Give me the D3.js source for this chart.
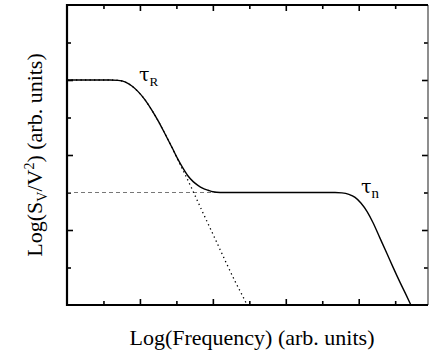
<!DOCTYPE html>
<html>
<head>
<meta charset="utf-8">
<script src="https://cdn.jsdelivr.net/npm/d3@7"></script>
<style>
  body { margin: 0; background: #fff; }
  text { font-family: "Liberation Serif", "Times New Roman", serif; fill: #000; }
</style>
</head>
<body>
<svg id="chart"></svg>
<script>
// values (x: log frequency, y: log noise, arbitrary units)
const freq  = [0, 1.18, 1.40, 1.59, 1.78, 1.95, 2.14, 2.33, 2.50, 2.69, 2.88, 3.04, 3.18, 3.32, 3.46, 3.59, 3.73, 3.87, 4.00, 4.20, 4.47, 7.35, 7.54, 7.73, 7.90, 8.06, 8.23, 8.39, 8.58, 8.78, 8.94, 9.13, 9.30, 9.43]
const total = [6, 6.00, 5.99, 5.95, 5.84, 5.69, 5.47, 5.19, 4.91, 4.56, 4.20, 3.89, 3.65, 3.44, 3.29, 3.19, 3.11, 3.06, 3.02, 3.00, 3.00, 3.00, 2.99, 2.95, 2.87, 2.72, 2.49, 2.20, 1.79, 1.36, 1.01, 0.61, 0.27, 0]

// single Lorentzian (tau_R), dotted
const freqR  = [0, 1.18, 1.40, 1.59, 1.78, 1.95, 2.14, 2.33, 2.50, 2.69, 2.88, 3.04, 3.24, 3.51, 3.78, 4.06, 4.33, 4.61, 4.80, 4.94]
const lorR   = [6, 6.00, 5.99, 5.95, 5.84, 5.69, 5.47, 5.19, 4.91, 4.56, 4.20, 3.87, 3.48, 2.92, 2.35, 1.77, 1.20, 0.63, 0.27, 0]

// tau_n plateau, dashed
const freqN = [0, 4.3]
const levelN = [3, 3]

const xMajor = [2, 4, 6, 8]
const xMinor = [1, 3, 5, 7, 9]
const yMajor = [2, 4, 6]
const yMinor = [1, 3, 5, 7]

const width = 430
const height = 356
const margin = { left: 67, right: 2, top: 5, bottom: 51 }

const svg = d3.select("#chart")
    .attr("width", width)
    .attr("height", height)

const x = d3.scaleLinear().domain([0, 9.9]).range([margin.left, width - margin.right])
const y = d3.scaleLinear().domain([0, 8]).range([height - margin.bottom, margin.top])

const x0 = x.range()[0], x1 = x.range()[1]
const y0 = y.range()[0], y1 = y.range()[1]

// ticks, pointing inward on every side
const addAxis = (axis, tx, ty) => {
    const g = svg.append("g")
        .attr("transform", `translate(${tx},${ty})`)
        .call(axis.tickFormat("").tickSizeOuter(0))
    g.select(".domain").remove()
    g.selectAll(".tick line").attr("stroke", "#000").attr("stroke-width", 1.6)
}
addAxis(d3.axisBottom(x).tickValues(xMajor).tickSizeInner(-6), 0, y0)
addAxis(d3.axisBottom(x).tickValues(xMinor).tickSizeInner(-4), 0, y0)
addAxis(d3.axisTop(x).tickValues(xMajor).tickSizeInner(-6), 0, y1)
addAxis(d3.axisTop(x).tickValues(xMinor).tickSizeInner(-4), 0, y1)
addAxis(d3.axisLeft(y).tickValues(yMajor).tickSizeInner(-6), x0, 0)
addAxis(d3.axisLeft(y).tickValues(yMinor).tickSizeInner(-4), x0, 0)
addAxis(d3.axisRight(y).tickValues(yMajor).tickSizeInner(-6), x1, 0)
addAxis(d3.axisRight(y).tickValues(yMinor).tickSizeInner(-4), x1, 0)

const line = d3.line()
    .x(d => x(d[0]))
    .y(d => y(d[1]))
    .curve(d3.curveMonotoneX)

svg.append("path")
    .datum(d3.zip(freqN, levelN))
    .attr("d", line)
    .attr("fill", "none")
    .attr("stroke", "#777")
    .attr("stroke-width", 1)
    .attr("stroke-dasharray", "4,3")

svg.append("path")
    .datum(d3.zip(freqR, lorR))
    .attr("d", line)
    .attr("fill", "none")
    .attr("stroke", "#000")
    .attr("stroke-width", 1.3)
    .attr("stroke-dasharray", "1.3,3.2")

svg.append("path")
    .datum(d3.zip(freq, total))
    .attr("d", line)
    .attr("fill", "none")
    .attr("stroke", "#000")
    .attr("stroke-width", 1.4)

// frame
svg.append("line").attr("x1", x1).attr("x2", x1).attr("y1", y1).attr("y2", y0)
    .attr("stroke", "#444").attr("stroke-width", 1.2)
svg.append("path")
    .attr("d", `M${x1},${y1}H${x0}V${y0}H${x1}`)
    .attr("fill", "none")
    .attr("stroke", "#000")
    .attr("stroke-width", 2.2)

// curve labels
const tauLabel = (sub, subSize, px, py) => {
    const t = svg.append("text")
        .attr("x", px).attr("y", py)
    t.append("tspan").attr("font-family", "DejaVu Serif").attr("font-size", 19).text("τ")
    t.append("tspan").attr("font-size", subSize).attr("dy", 5).text(sub)
}
tauLabel("R", 13, 139, 81)
tauLabel("n", 15, 361, 193)

// axis titles
svg.append("text")
    .attr("x", 252)
    .attr("y", 345)
    .attr("text-anchor", "middle")
    .attr("font-size", 22)
    .text("Log(Frequency) (arb. units)")

const yt = svg.append("text")
    .attr("transform", "translate(42,155) rotate(-90)")
    .attr("text-anchor", "middle")
    .attr("font-size", 22)
yt.append("tspan").text("Log(S")
yt.append("tspan").attr("font-size", 14).attr("dy", 5).text("V")
yt.append("tspan").attr("dy", -5).text("/V")
yt.append("tspan").attr("font-size", 14).attr("dy", -8).text("2")
yt.append("tspan").attr("dy", 8).text(") (arb. units)")
</script>
</body>
</html>
